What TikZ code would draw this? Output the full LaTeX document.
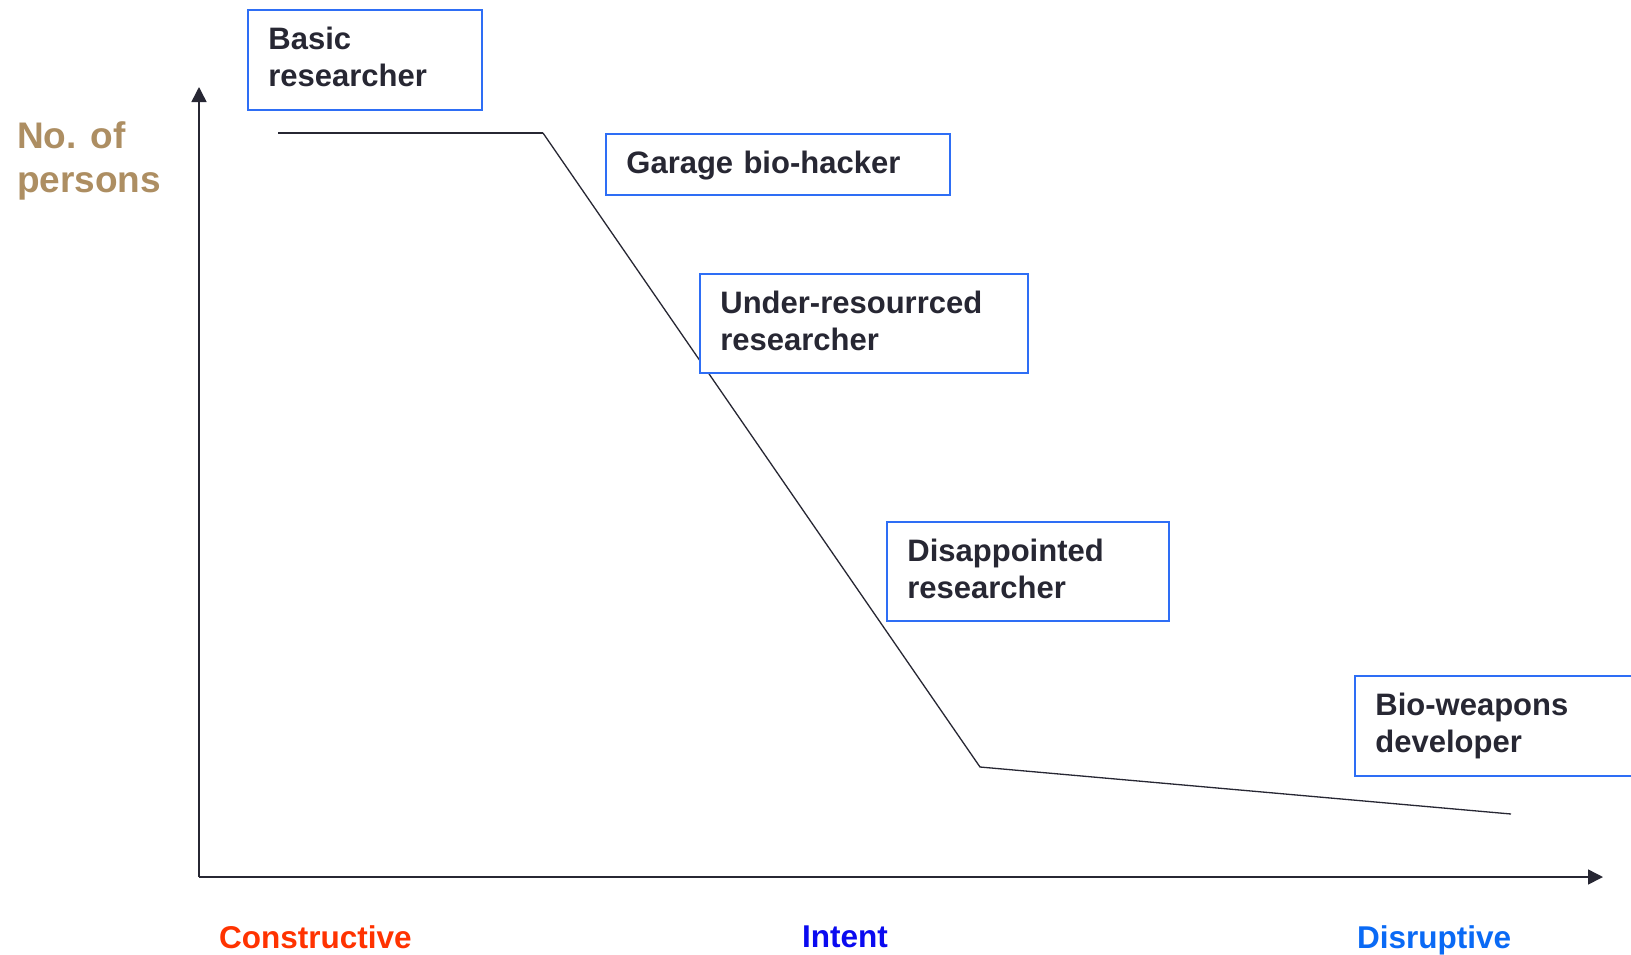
\documentclass[tikz,border=0pt]{standalone}
\usepackage{fontspec}
\setmainfont{Liberation Sans}
\usetikzlibrary{arrows.meta}
\definecolor{ink}{HTML}{272733}
\definecolor{boxblue}{HTML}{2E6EF5}
\definecolor{tan}{HTML}{AD8E62}
\definecolor{conred}{HTML}{FF3300}
\definecolor{intblue}{HTML}{0A0AF0}
\definecolor{disblue}{HTML}{0A6AF5}
\tikzset{
  rolebox/.style={draw=boxblue, line width=1.8pt, fill=white, anchor=north west,
    align=left, inner xsep=20.5pt, inner ysep=18pt, text height=22pt,
    text=ink, font=\fontsize{31}{37}\selectfont\bfseries},
  axislabel/.style={anchor=base west, inner sep=0pt, font=\fontsize{31.5}{37}\selectfont\bfseries},
  axisline/.style={draw=ink, line width=1.5pt, -{Triangle[length=15pt,width=15pt]}},
  curve/.style={draw=ink, line join=miter}
}
\begin{document}
\begin{tikzpicture}[x=1pt,y=1pt]
\clip (0,0) rectangle (1631,-954);
\fill[white] (0,0) rectangle (1631,-954);

% axes
\coordinate (origin) at (199,-877);
\coordinate (ytip) at (199,-87);
\coordinate (xtip) at (1603,-877);
\draw[axisline] (origin) -- (ytip);
\draw[axisline] (origin) -- (xtip);

% profile of the number of persons against intent
\coordinate (p1) at (278,-133);
\coordinate (p2) at (543,-133);
\coordinate (p3) at (980,-767);
\coordinate (p4) at (1511,-814);
\draw[curve, line width=2pt] (p1) -- (p2);
\draw[curve, line width=1.3pt] (p2) -- (p3) -- (p4);

% role boxes
\node[rolebox, text width=193pt, text depth=42pt] (basic) at (247,-9)
  {Basic\\researcher};
\node[rolebox, text width=303pt, text depth=3pt] (garage) at (605,-133)
  {Garage bio-hacker};
\node[rolebox, text width=287pt, text depth=41pt] (under) at (699,-273)
  {Under-resourrced\\researcher};
\node[rolebox, text width=241pt, text depth=41pt] (disap) at (886,-521)
  {Disappointed\\researcher};
\node[rolebox, text width=300pt, text depth=42pt] (weapons) at (1354,-675)
  {Bio-weapons\\developer};

% axis titles
\node[anchor=base west, inner sep=0pt, align=left,
  text=tan, font=\fontsize{37}{44}\selectfont\bfseries] (ylabel) at (17,-192)
  {No. of\\persons};
\node[axislabel, text=conred] (constructive) at (219,-948) {Constructive};
\node[axislabel, text=intblue] (intent) at (802,-947) {Intent};
\node[axislabel, text=disblue] (disruptive) at (1357,-948) {Disruptive};
\end{tikzpicture}
\end{document}
